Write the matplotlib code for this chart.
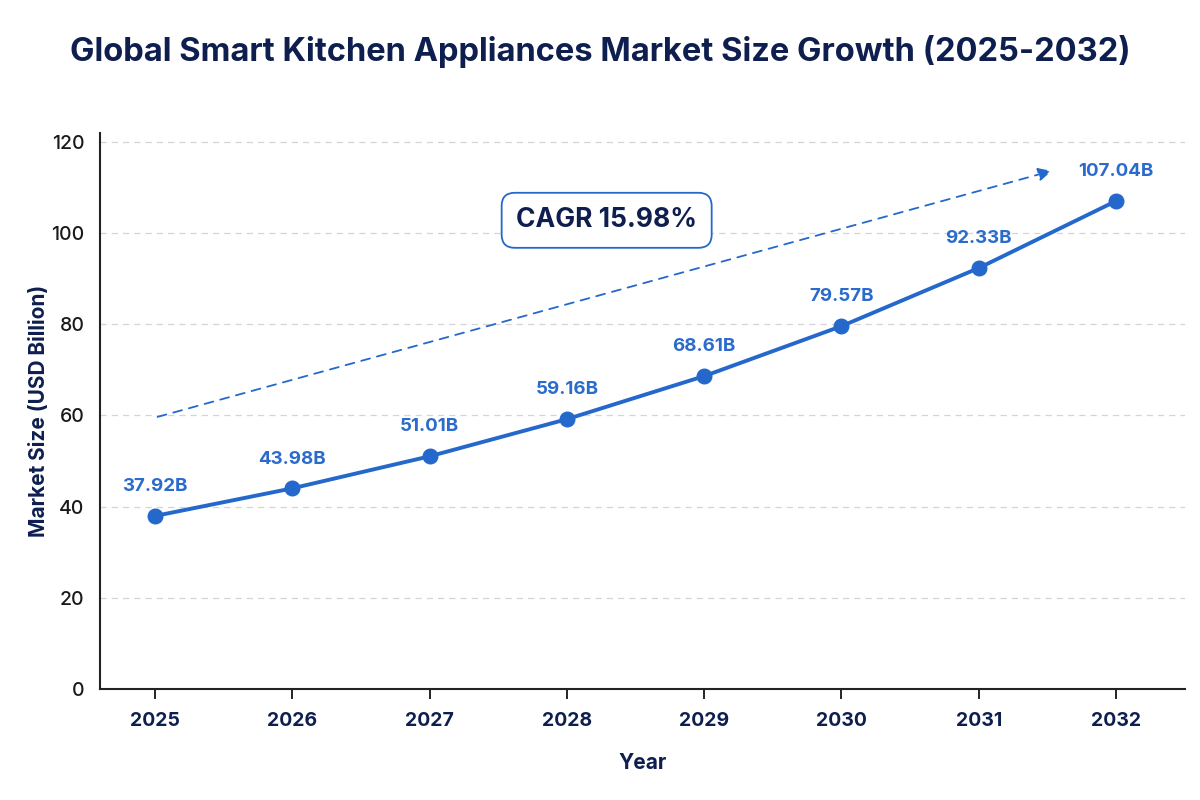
import matplotlib
matplotlib.use("Agg")
import matplotlib.pyplot as plt

# Datos del gráfico
years = [2025, 2026, 2027, 2028, 2029, 2030, 2031, 2032]
market_size = [37.92, 43.98, 51.01, 59.16, 68.61, 79.57, 92.33, 107.04]
labels = ["37.92B", "43.98B", "51.01B", "59.16B", "68.61B", "79.57B", "92.33B", "107.04B"]
y_ticks = [0, 20, 40, 60, 80, 100, 120]
cagr_text = "CAGR 15.98%"
trend_start = (2025, 59.5)
trend_end = (2031.55, 113.8)

COLORS = {
    "line": "#2468CC",
    "label": "#2A6BCC",
    "navy": "#0E1F4F",
    "grid": "#D5D5D5",
    "tick": "#1A1A1A",
}

plt.rcParams["font.family"] = ["Inter", "DejaVu Sans"]

fig = plt.figure(figsize=(12, 8), dpi=100)
ax = fig.add_axes([0.0833, 0.139, 0.904, 0.695])

ax.plot(years, market_size, color=COLORS["line"], linewidth=2.8,
        marker="o", markersize=10.5, zorder=3)

for x, y, txt in zip(years, market_size, labels):
    ax.annotate(txt, (x, y), xytext=(0, 15), textcoords="offset points",
                ha="center", va="bottom", fontsize=13.5, fontweight="bold",
                color=COLORS["label"])

# Flecha de tendencia
ax.annotate("", xy=trend_end, xytext=trend_start,
            arrowprops=dict(arrowstyle="-|>", color=COLORS["line"],
                            linestyle=(0, (5, 4)), linewidth=1.3,
                            mutation_scale=20))

ax.text(2028.29, 102.8, cagr_text, ha="center", va="center", fontsize=19,
        fontweight="bold", color=COLORS["navy"],
        bbox=dict(boxstyle="round,pad=0.55,rounding_size=0.5", facecolor="white",
                  edgecolor=COLORS["line"], linewidth=1.3))

ax.set_xlim(2024.6, 2032.5)
ax.set_ylim(0, 122)
ax.set_xticks(years)
ax.set_yticks(y_ticks)
ax.grid(axis="y", linestyle=(0, (5, 4)), color=COLORS["grid"], linewidth=0.9)
ax.set_axisbelow(True)

for s in ["top", "right"]:
    ax.spines[s].set_visible(False)
for s in ["left", "bottom"]:
    ax.spines[s].set_color("#222222")
    ax.spines[s].set_linewidth(1.5)

ax.tick_params(axis="x", length=7, width=1.2, pad=10, labelsize=14,
               labelcolor=COLORS["navy"])
ax.tick_params(axis="y", length=0, pad=11, labelsize=14,
               labelcolor=COLORS["tick"])
for lbl in ax.get_xticklabels():
    lbl.set_fontweight("bold")
for lbl in ax.get_yticklabels():
    lbl.set_fontweight("medium")

ax.set_xlabel("Year", fontsize=15, fontweight="bold", color=COLORS["navy"], labelpad=16)
ax.set_ylabel("Market Size (USD Billion)", fontsize=15, fontweight="bold",
              color=COLORS["navy"], labelpad=2)

fig.text(0.5, 0.935, "Global Smart Kitchen Appliances Market Size Growth (2025-2032)",
         ha="center", va="center", fontsize=23.5, fontweight="bold", color=COLORS["navy"])

fig.savefig("out.png", dpi=100, facecolor="white")
